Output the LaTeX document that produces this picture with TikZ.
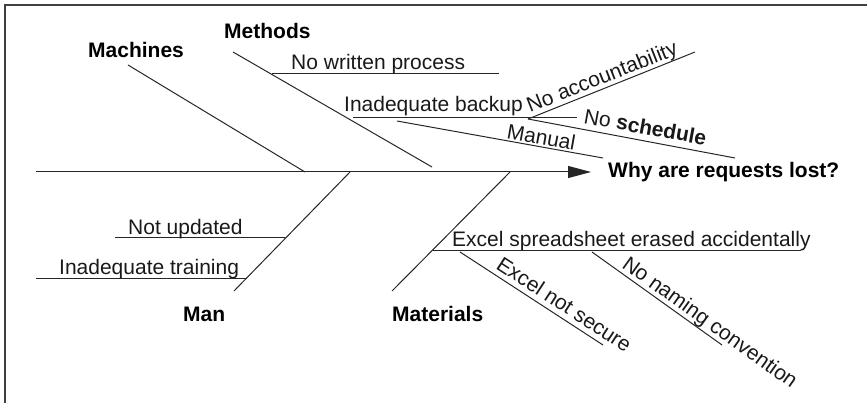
\documentclass[tikz,border=0pt]{standalone}
\usepackage{fontspec}
\setmainfont{Liberation Sans}
\usetikzlibrary{arrows.meta}
\begin{document}
\begin{tikzpicture}[x=1pt,y=-1pt,
  bone/.style={line width=1pt, black!85},
  lbl/.style={anchor=base west, inner sep=0pt, text=black!90,
    font=\fontsize{21}{25}\selectfont},
  cat/.style={lbl, text=black, font=\fontsize{21}{25}\selectfont\bfseries}]
\useasboundingbox (0,0) rectangle (867,403);
% frame
\draw[line width=2pt, black!75] (867,5) -- (5,5) -- (5,403);

% spine
\coordinate (tail) at (36,172);
\coordinate (tip) at (591,172);
\draw[bone, -{Triangle[length=23pt, width=12pt]}] (tail) -- (tip);
\node[cat] (effect) at (608,178) {Why are requests lost?};

% Machines
\coordinate (mach1) at (128,65);
\coordinate (mach2) at (305,172);
\draw[bone] (mach1) -- (mach2);
\node[cat] (machines) at (88,58) {Machines};

% Methods
\coordinate (meth1) at (233,52);
\coordinate (meth2) at (432,167);
\draw[bone] (meth1) -- (meth2);
\node[cat] (methods) at (224,39) {Methods};
\coordinate (nwp1) at (272,74);
\coordinate (nwp2) at (499,74);
\draw[bone] (nwp1) -- (nwp2);
\node[lbl] (nwp) at (291,70) {No written process};
\coordinate (iab1) at (353,118);
\coordinate (iab2) at (577,118);
\draw[bone] (iab1) -- (iab2);
\node[lbl] (iab) at (344,112) {Inadequate backup};
\coordinate (fork) at (528,119);
\coordinate (acc2) at (695,52);
\draw[bone] (fork) -- (acc2);
\node[lbl, rotate=21.6] (acc) at (530,113) {No accountability};
\coordinate (sch2) at (735,158);
\draw[bone] (fork) -- (sch2);
\node[lbl, rotate=-10.4] (sch) at (583,123) {No \textbf{schedule}};
\coordinate (man1) at (397,121);
\coordinate (man2) at (603,158);
\draw[bone] (man1) -- (man2);
\node[lbl, rotate=-10.2] (manual) at (506,138) {Manual};

% Man
\coordinate (mn1) at (350,172);
\coordinate (mn2) at (234,291);
\draw[bone] (mn1) -- (mn2);
\node[cat] (manlbl) at (183,321) {Man};
\coordinate (nu1) at (115,238);
\coordinate (nu2) at (285,238);
\draw[bone] (nu1) -- (nu2);
\node[lbl] (nu) at (128,235) {Not updated};
\coordinate (it1) at (36,279);
\coordinate (it2) at (247,279);
\draw[bone] (it1) -- (it2);
\node[lbl] (it) at (59,275) {Inadequate training};

% Materials
\coordinate (mt1) at (510,172);
\coordinate (mt2) at (392,291);
\draw[bone] (mt1) -- (mt2);
\node[cat] (materials) at (392,321) {Materials};
\coordinate (ex1) at (433,251);
\coordinate (ex2) at (801,251);
\draw[bone] (ex1) -- (ex2);
\node[lbl] (ex) at (452,247) {Excel spreadsheet erased accidentally};
\coordinate (ens1) at (460,252);
\coordinate (ens2) at (603,345);
\draw[bone] (ens1) -- (ens2);
\node[lbl, rotate=-33] (ens) at (495,268) {Excel not secure};
\coordinate (nnc1) at (592,252);
\coordinate (nnc2) at (722,345);
\draw[bone] (nnc1) -- (nnc2);
\node[lbl, rotate=-35.6] (nnc) at (621,267) {No naming convention};
\end{tikzpicture}
\end{document}
